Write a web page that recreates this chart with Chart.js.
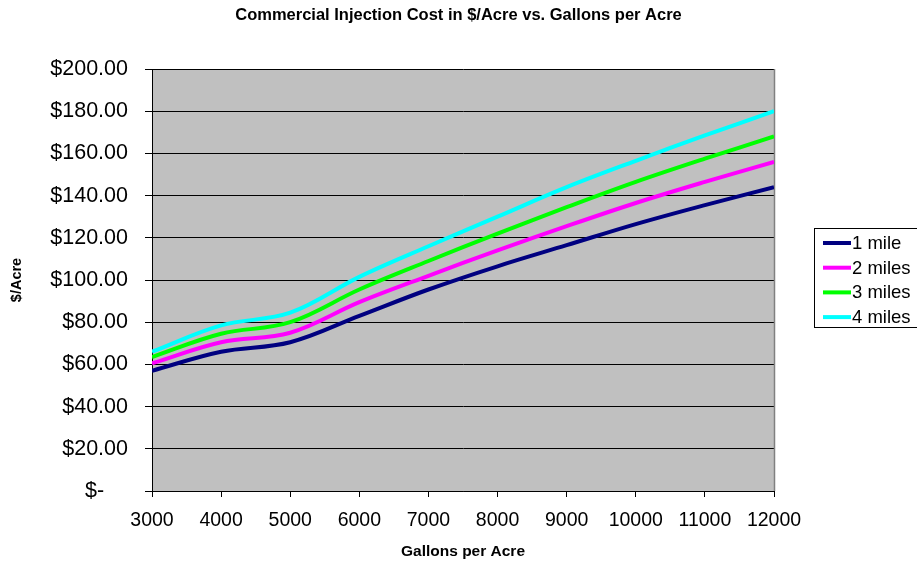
<!DOCTYPE html>
<html>
<head>
<meta charset="utf-8">
<script src="https://cdn.jsdelivr.net/npm/chart.js@4/dist/chart.umd.min.js"></script>
<style>
  html, body { margin: 0; padding: 0; background: #ffffff; }
  #wrap { width: 917px; height: 562px; }
</style>
</head>
<body>
<div id="wrap"><canvas id="chart" width="917" height="562"></canvas></div>
<script>
// Gallons per acre (x positions of the data points)
const gallons = [3000, 4000, 5000, 6000, 7000, 8000, 9000, 10000, 11000, 12000];

// Cost in $/acre for each hauling distance
const mile1  = [57, 66, 70.5, 83, 95.5, 106.5, 116.5, 126.5, 135.5, 144];
const miles2 = [60.5, 70.5, 75, 89.5, 102, 114, 125.5, 136.5, 146.5, 156];
const miles3 = [63.5, 74.5, 80, 95.5, 109, 122, 134.5, 146.5, 157.5, 168];
const miles4 = [66, 78.5, 84.5, 101.5, 116, 130, 144, 156.5, 168.5, 180];

const seriesNames = ['1 mile', '2 miles', '3 miles', '4 miles'];
const seriesColors = ['#000080', '#FF00FF', '#00FF00', '#00FFFF'];

const yTickValues = [0, 20, 40, 60, 80, 100, 120, 140, 160, 180, 200];

const chartTitle = 'Commercial Injection Cost in $/Acre vs. Gallons per Acre';

const FONT = 'Liberation Sans, Arial, Helvetica, sans-serif';

function toPoints(values) {
  return gallons.map((g, i) => ({ x: g, y: values[i] }));
}

const datasets = [mile1, miles2, miles3, miles4].map((vals, i) => ({
  label: seriesNames[i],
  data: toPoints(vals),
  borderColor: seriesColors[i],
  backgroundColor: seriesColors[i],
  borderWidth: 4,
  pointRadius: 0,
  tension: 0.36,
  fill: false
}));

// Grey plot background plus the thin border on the right of the plot
const plotFrame = {
  id: 'plotFrame',
  beforeDraw(chart) {
    const { ctx, chartArea: a } = chart;
    ctx.save();
    ctx.fillStyle = '#C0C0C0';
    ctx.fillRect(a.left, a.top, a.right - a.left, a.bottom - a.top);
    ctx.restore();
  },
  beforeDatasetsDraw(chart) {
    const { ctx, chartArea: a } = chart;
    ctx.save();
    ctx.strokeStyle = '#808080';
    ctx.lineWidth = 1.5;
    ctx.beginPath();
    ctx.moveTo(Math.round(a.right) + 0.5, a.top);
    ctx.lineTo(Math.round(a.right) + 0.5, a.bottom);
    ctx.stroke();
    ctx.restore();
  }
};

// Title centred across the whole canvas
const pageTitle = {
  id: 'pageTitle',
  afterDraw(chart) {
    const { ctx, width } = chart;
    ctx.save();
    ctx.font = 'bold 16.5px ' + FONT;
    ctx.fillStyle = '#000000';
    ctx.textAlign = 'center';
    ctx.textBaseline = 'middle';
    ctx.fillText(chartTitle, width / 2, 15.5);
    ctx.restore();
  }
};

// Boxed legend to the right of the plot
const boxLegend = {
  id: 'boxLegend',
  afterDraw(chart) {
    const { ctx } = chart;
    const left = 814.5, top = 228.5, right = 917, bottom = 327.5;
    ctx.save();
    ctx.strokeStyle = '#000000';
    ctx.lineWidth = 1;
    ctx.strokeRect(left, top, right - left + 2, bottom - top);
    ctx.font = '18.5px ' + FONT;
    ctx.textBaseline = 'middle';
    ctx.textAlign = 'left';
    chart.data.datasets.forEach((ds, i) => {
      const y = 243 + i * 24.7;
      ctx.strokeStyle = ds.borderColor;
      ctx.lineWidth = 4;
      ctx.beginPath();
      ctx.moveTo(823, y);
      ctx.lineTo(851, y);
      ctx.stroke();
      ctx.fillStyle = '#000000';
      ctx.fillText(ds.label, 852, y + 1);
    });
    ctx.restore();
  }
};

new Chart(document.getElementById('chart'), {
  type: 'line',
  data: { datasets },
  plugins: [plotFrame, pageTitle, boxLegend],
  options: {
    responsive: false,
    animation: false,
    layout: { padding: { left: 0, right: 143, top: 69, bottom: 0 } },
    plugins: {
      legend: { display: false },
      tooltip: { enabled: false },
      title: { display: false }
    },
    scales: {
      x: {
        type: 'linear',
        min: gallons[0],
        max: gallons[gallons.length - 1],
        afterBuildTicks(scale) {
          scale.ticks = gallons.map(v => ({ value: v }));
        },
        ticks: {
          color: '#000000',
          font: { family: FONT, size: 19.5 },
          padding: 12,
          maxRotation: 0,
          autoSkip: false,
          callback: v => String(v)
        },
        grid: { drawOnChartArea: false, color: '#000000', tickLength: 6, lineWidth: 1 },
        border: { color: '#000000', width: 1 },
        title: {
          display: true,
          text: 'Gallons per Acre',
          color: '#000000',
          font: { family: FONT, size: 15.5, weight: 'bold' },
          padding: { top: 0, bottom: 1 }
        },
        afterFit(scale) { scale.height = 71; }
      },
      y: {
        min: 0,
        max: 200,
        afterBuildTicks(scale) {
          scale.ticks = yTickValues.map(v => ({ value: v }));
        },
        ticks: {
          color: '#000000',
          font: { family: FONT, size: 21.5 },
          padding: 17,
          callback: v => (v === 0 ? '$-    ' : '$' + v.toFixed(2))
        },
        grid: { color: '#000000', tickLength: 7, lineWidth: 1 },
        border: { color: '#000000', width: 1 },
        title: {
          display: true,
          text: '$/Acre',
          color: '#000000',
          font: { family: FONT, size: 14.5, weight: 'bold' },
          padding: { top: 8, bottom: 0 }
        },
        afterFit(scale) { scale.width = 152; }
      }
    }
  }
});
</script>
</body>
</html>
